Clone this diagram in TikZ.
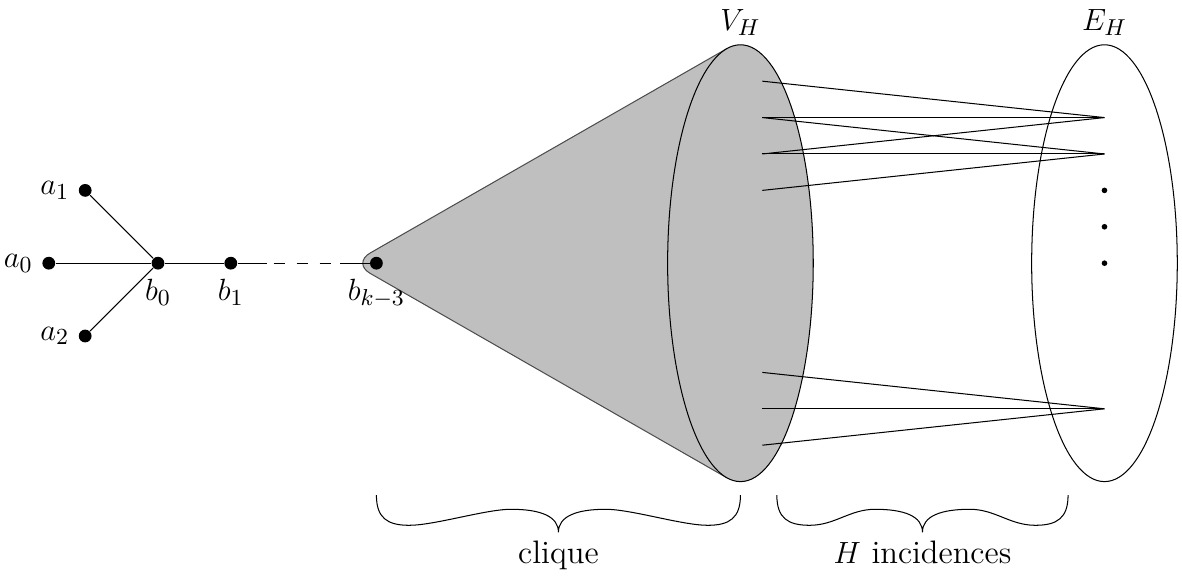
\documentclass[tikz,border=0pt]{standalone}
\usepackage{amsmath}
\usepackage{amssymb}
\usepackage{tikz}
\usetikzlibrary{shapes.geometric}

\begin{document}
\begin{tikzpicture}[x=0.5cm, y=0.5cm, font=\fontsize{12.7pt}{15pt}\selectfont,
  vert/.style={circle, fill, inner sep=0pt, minimum size=5pt},
  sdot/.style={circle, fill, inner sep=0pt, minimum size=2.2pt},
  blob/.style={ellipse, draw, inner sep=0pt, minimum width=2cm, minimum height=6cm},
  cone/.style={fill=black!25, draw=black!70, rounded corners=8pt},
  inc/.style={thin},
  brc/.style={thin},
  lab/.style={anchor=base}]
  \useasboundingbox (-4.34,-8.65) rectangle (28.13,7.23);
  % clique cone and the two sides
  \filldraw[cone] (15.625,5.893) -- (5.34,0) -- (15.625,-5.893);
  \node[blob, fill=black!25, label={above:$V_H$}] (VH) at (16,0) {};
  \node[blob, label={above:$E_H$}] (EH) at (26,0) {};
  % incidences
  \foreach \i/\yy in {1/5, 2/4, 3/3, 4/2, 5/-3, 6/-4, 7/-5}
    \coordinate (v\i) at (16.6,\yy);
  \coordinate (e1) at (26,4);
  \coordinate (e2) at (26,3);
  \coordinate (e3) at (26,-4);
  \foreach \v/\e in {v1/e1, v2/e1, v3/e1, v2/e2, v3/e2, v4/e2, v5/e3, v6/e3, v7/e3}
    \draw[inc] (\v) -- (\e);
  \foreach \yy in {2,1,0}
    \node[sdot] (eh\yy) at (26,\yy) {};
  % the tree
  \node[vert, label=left:$a_0$] (a0) at (-3,0) {};
  \node[vert, label=left:$a_1$] (a1) at (-2,2) {};
  \node[vert, label=left:$a_2$] (a2) at (-2,-2) {};
  \node[vert, label=below:$b_0$] (b0) at (0,0) {};
  \node[vert, label=below:$b_1$] (b1) at (2,0) {};
  \node[vert, label=below:$b_{k-3}$] (bk) at (6,0) {};
  \coordinate (p1) at (3,0);
  \coordinate (p2) at (5,0);
  \draw (a0) -- (b0);
  \draw (a1) -- (b0);
  \draw (a2) -- (b0);
  \draw (b0) -- (b1);
  \draw (b1) -- (p1);
  \draw[dash pattern=on 4.5pt off 4.5pt, dash phase=6.5pt] (p1) -- (p2);
  \draw (p2) -- (bk);
  % braces
  \foreach \xa/\xb/\nm/\txt in {6/16/cl/clique, 17/25/hi/$H$ incidences} {
    \pgfmathsetmacro\xm{(\xa+\xb)/2}
    \draw[brc] (\xa,-6.37) .. controls (\xa,-7.0) and ({\xa+0.3},-7.2) .. ({\xa+0.9},-7.2)
      .. controls ({\xa+1.6},-7.2) and ({\xm-2.0},-6.76) .. ({\xm-1.3},-6.76)
      .. controls ({\xm-0.5},-6.76) and (\xm,-6.95) .. (\xm,-7.39)
      .. controls (\xm,-6.95) and ({\xm+0.5},-6.76) .. ({\xm+1.3},-6.76)
      .. controls ({\xm+2.0},-6.76) and ({\xb-1.6},-7.2) .. ({\xb-0.9},-7.2)
      .. controls ({\xb-0.3},-7.2) and (\xb,-7.0) .. (\xb,-6.37);
    \node[lab] (\nm) at (\xm,-8.24) {\txt};
  }
\end{tikzpicture}
\end{document}
